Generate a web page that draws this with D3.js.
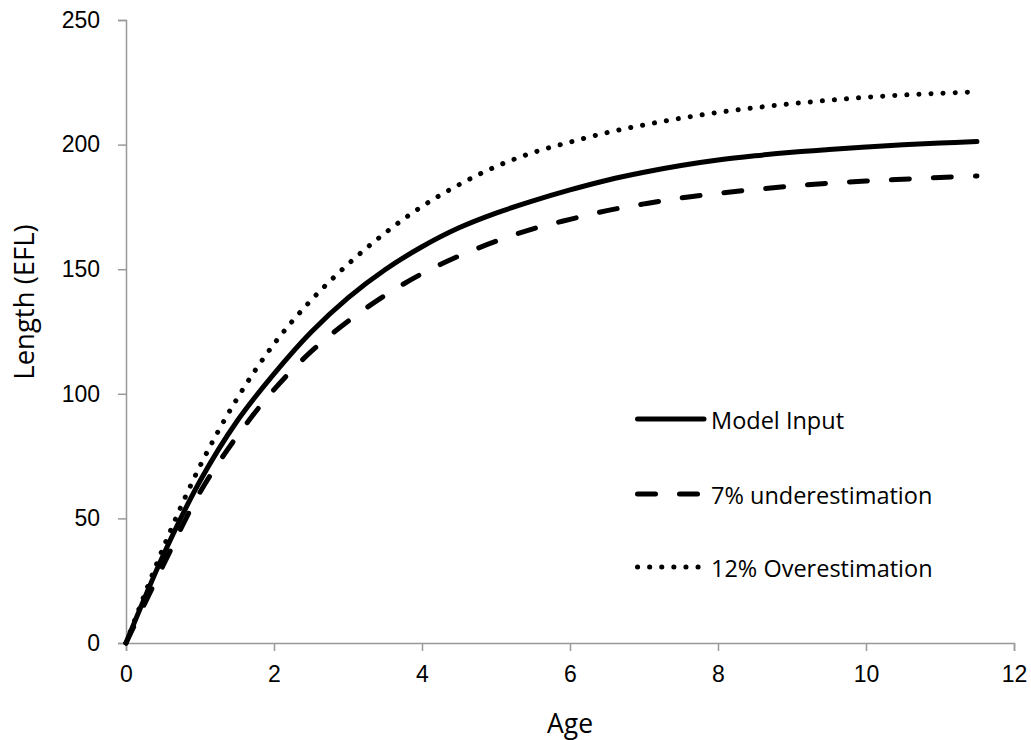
<!DOCTYPE html>
<html>
<head>
    <title>growth curves</title>
    <script type="text/javascript" src="https://cdn.jsdelivr.net/npm/d3@7/dist/d3.min.js"></script>
    <style type="text/css">
        body {
            margin: 0;
            background: #fff;
        }
        svg {
            font-family: "Open Sans", sans-serif;
        }
        .axis path, .axis line {
            stroke: #999;
            stroke-width: 1.5px;
        }
        .axis text {
            font-size: 23px;
            fill: #000;
        }
        .curve {
            fill: none;
            stroke: #000;
            stroke-width: 5px;
            stroke-linecap: round;
            stroke-linejoin: round;
        }
    </style>
</head>
<body>
    <svg id="chart" width="1031" height="740"></svg>
</body>

<script type="text/javascript">

    let ages = [0, 0.5, 1, 1.5, 2, 2.5, 3, 3.5, 4, 4.5, 5, 5.5, 6, 6.5, 7, 7.5, 8, 8.5, 9, 9.5, 10, 10.5, 11, 11.5];
    let modelInput = [0, 35, 65, 89, 108, 124.7, 138.5, 149.8, 159, 166.6, 172.5, 177.4, 181.8, 185.7, 188.9, 191.6, 193.8, 195.5, 196.9, 198, 199, 199.9, 200.6, 201.2];
    let under7 = [0, 31, 60.5, 82.9, 101.7, 116.9, 129.1, 139.5, 148.2, 155.3, 161.2, 166.2, 170, 173.5, 176.2, 178.6, 180.4, 182, 183.4, 184.5, 185.4, 186.1, 186.8, 187.4];
    let over12 = [0, 38, 71, 98, 120, 137.5, 152, 164.5, 175.2, 183.9, 191.2, 196.8, 201, 204.8, 207.9, 210.6, 212.9, 214.8, 216.4, 217.8, 219, 219.9, 220.6, 221.2];
    let seriesNames = ["Model Input", "7% underestimation", "12% Overestimation"];
    let xTicks = [0, 2, 4, 6, 8, 10, 12];
    let yTicks = [0, 50, 100, 150, 200, 250];

    let dashes = [null, "18,24", "0.1,12"];
    let widths = [5, 5, 4.5];

    let svg = d3.select("#chart");

    let x = d3.scaleLinear().domain([0, 12]).range([126, 1014]);
    let y = d3.scaleLinear().domain([0, 250]).range([643, 20]);

    svg.append("g")
        .attr("class", "axis")
        .attr("transform", "translate(0,643)")
        .call(d3.axisBottom(x).tickValues(xTicks).tickSize(8).tickSizeOuter(8).tickPadding(18))
        .call(g => g.selectAll("text").attr("dy", "0.55em"));

    svg.append("g")
        .attr("class", "axis")
        .attr("transform", "translate(126,0)")
        .call(d3.axisLeft(y).tickValues(yTicks).tickSize(8).tickSizeOuter(8).tickPadding(18));

    svg.selectAll(".axis .domain").attr("fill", "none");

    svg.append("text")
        .attr("x", 570)
        .attr("y", 733)
        .attr("text-anchor", "middle")
        .style("font-size", "26.5px")
        .text("Age");

    svg.append("text")
        .attr("transform", "translate(34,302) rotate(-90)")
        .attr("text-anchor", "middle")
        .style("font-size", "27.5px")
        .text("Length (EFL)");

    let series = [modelInput, under7, over12];

    let line = d3.line()
        .x(function(d, i) { return x(ages[i]); })
        .y(function(d) { return y(d); })
        .curve(d3.curveCatmullRom.alpha(0.5));

    series.forEach(function(s, k) {
        svg.append("path")
            .attr("class", "curve")
            .attr("d", line(s))
            .attr("stroke-width", widths[k])
            .attr("stroke-dasharray", dashes[k]);
    });

    // legend
    let legendY = [419, 494, 567];
    seriesNames.forEach(function(name, k) {
        svg.append("line")
            .attr("class", "curve")
            .attr("x1", 637.5)
            .attr("x2", 704)
            .attr("y1", legendY[k])
            .attr("y2", legendY[k])
            .attr("stroke-width", widths[k])
            .attr("stroke-dasharray", dashes[k]);
        svg.append("text")
            .attr("x", 711)
            .attr("y", legendY[k] + 10)
            .style("font-size", "23.5px")
            .text(name);
    });
</script>

</html>
